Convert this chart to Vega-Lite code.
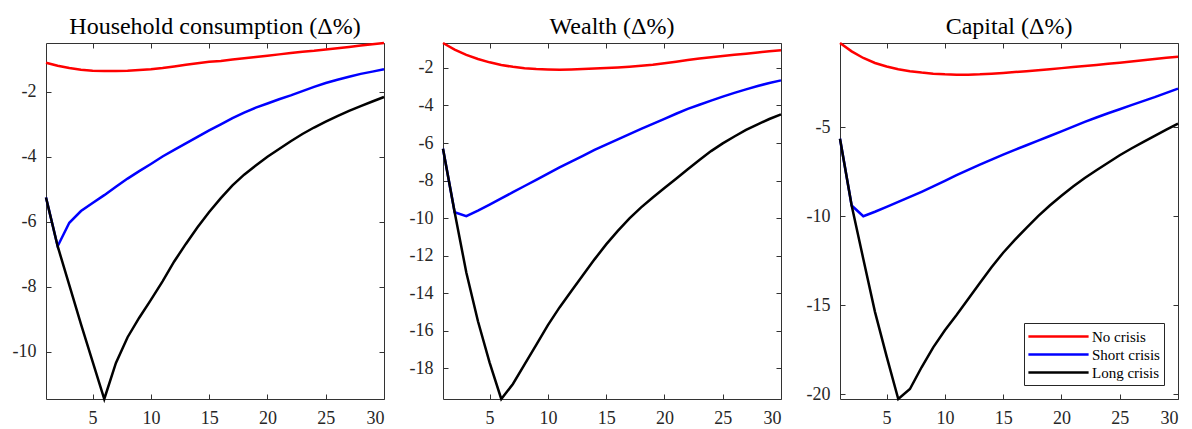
{
  "$schema": "https://vega.github.io/schema/vega-lite/v6.json",
  "background": "white",
  "padding": {"left": 11, "top": 14, "right": 5, "bottom": 5},
  "config": {
    "font": "Liberation Serif, DejaVu Serif, serif",
    "view": {"stroke": "#333333", "strokeWidth": 1},
    "axis": {"labelFont": "Liberation Serif, DejaVu Serif, serif", "labelFontSize": 18, "labelColor": "#262626", "tickColor": "#333333", "domain": false, "grid": false, "tickSize": -5, "labelPadding": 15},
    "title": {"font": "Liberation Serif, DejaVu Serif, serif", "fontSize": 24, "fontWeight": "normal", "color": "#000000", "offset": -1}
  },
  "datasets": {
    "d": [
      {"p":"H","x":1,"No crisis":-1.11,"Short crisis":-5.25,"Long crisis":-5.25},
      {"p":"H","x":2,"No crisis":-1.2,"Short crisis":-6.75,"Long crisis":-6.75},
      {"p":"H","x":3,"No crisis":-1.27,"Short crisis":-6.03,"Long crisis":-7.95},
      {"p":"H","x":4,"No crisis":-1.32,"Short crisis":-5.67,"Long crisis":-9.15},
      {"p":"H","x":5,"No crisis":-1.35,"Short crisis":-5.42,"Long crisis":-10.3},
      {"p":"H","x":6,"No crisis":-1.36,"Short crisis":-5.18,"Long crisis":-11.45},
      {"p":"H","x":7,"No crisis":-1.36,"Short crisis":-4.92,"Long crisis":-10.34},
      {"p":"H","x":8,"No crisis":-1.35,"Short crisis":-4.67,"Long crisis":-9.55},
      {"p":"H","x":9,"No crisis":-1.33,"Short crisis":-4.44,"Long crisis":-8.95},
      {"p":"H","x":10,"No crisis":-1.31,"Short crisis":-4.22,"Long crisis":-8.4},
      {"p":"H","x":11,"No crisis":-1.27,"Short crisis":-3.99,"Long crisis":-7.83},
      {"p":"H","x":12,"No crisis":-1.22,"Short crisis":-3.79,"Long crisis":-7.22},
      {"p":"H","x":13,"No crisis":-1.17,"Short crisis":-3.59,"Long crisis":-6.68},
      {"p":"H","x":14,"No crisis":-1.12,"Short crisis":-3.39,"Long crisis":-6.17},
      {"p":"H","x":15,"No crisis":-1.08,"Short crisis":-3.19,"Long crisis":-5.7},
      {"p":"H","x":16,"No crisis":-1.05,"Short crisis":-3.0,"Long crisis":-5.27},
      {"p":"H","x":17,"No crisis":-1.01,"Short crisis":-2.81,"Long crisis":-4.88},
      {"p":"H","x":18,"No crisis":-0.97,"Short crisis":-2.64,"Long crisis":-4.55},
      {"p":"H","x":19,"No crisis":-0.93,"Short crisis":-2.49,"Long crisis":-4.27},
      {"p":"H","x":20,"No crisis":-0.89,"Short crisis":-2.36,"Long crisis":-4.0},
      {"p":"H","x":21,"No crisis":-0.85,"Short crisis":-2.23,"Long crisis":-3.76},
      {"p":"H","x":22,"No crisis":-0.81,"Short crisis":-2.11,"Long crisis":-3.52},
      {"p":"H","x":23,"No crisis":-0.77,"Short crisis":-1.98,"Long crisis":-3.3},
      {"p":"H","x":24,"No crisis":-0.74,"Short crisis":-1.85,"Long crisis":-3.1},
      {"p":"H","x":25,"No crisis":-0.7,"Short crisis":-1.73,"Long crisis":-2.92},
      {"p":"H","x":26,"No crisis":-0.66,"Short crisis":-1.63,"Long crisis":-2.75},
      {"p":"H","x":27,"No crisis":-0.62,"Short crisis":-1.54,"Long crisis":-2.59},
      {"p":"H","x":28,"No crisis":-0.58,"Short crisis":-1.45,"Long crisis":-2.44},
      {"p":"H","x":29,"No crisis":-0.54,"Short crisis":-1.38,"Long crisis":-2.3},
      {"p":"H","x":30,"No crisis":-0.5,"Short crisis":-1.31,"Long crisis":-2.16},
      {"p":"W","x":1,"No crisis":-0.67,"Short crisis":-6.3,"Long crisis":-6.3},
      {"p":"W","x":2,"No crisis":-1.02,"Short crisis":-9.69,"Long crisis":-9.69},
      {"p":"W","x":3,"No crisis":-1.3,"Short crisis":-9.9,"Long crisis":-12.9},
      {"p":"W","x":4,"No crisis":-1.52,"Short crisis":-9.6,"Long crisis":-15.5},
      {"p":"W","x":5,"No crisis":-1.7,"Short crisis":-9.28,"Long crisis":-17.7},
      {"p":"W","x":6,"No crisis":-1.84,"Short crisis":-8.95,"Long crisis":-19.64},
      {"p":"W","x":7,"No crisis":-1.94,"Short crisis":-8.62,"Long crisis":-18.84},
      {"p":"W","x":8,"No crisis":-2.01,"Short crisis":-8.29,"Long crisis":-17.8},
      {"p":"W","x":9,"No crisis":-2.06,"Short crisis":-7.96,"Long crisis":-16.75},
      {"p":"W","x":10,"No crisis":-2.08,"Short crisis":-7.63,"Long crisis":-15.7},
      {"p":"W","x":11,"No crisis":-2.09,"Short crisis":-7.3,"Long crisis":-14.76},
      {"p":"W","x":12,"No crisis":-2.08,"Short crisis":-6.99,"Long crisis":-13.9},
      {"p":"W","x":13,"No crisis":-2.06,"Short crisis":-6.68,"Long crisis":-13.05},
      {"p":"W","x":14,"No crisis":-2.03,"Short crisis":-6.37,"Long crisis":-12.2},
      {"p":"W","x":15,"No crisis":-2.0,"Short crisis":-6.08,"Long crisis":-11.4},
      {"p":"W","x":16,"No crisis":-1.97,"Short crisis":-5.8,"Long crisis":-10.68},
      {"p":"W","x":17,"No crisis":-1.93,"Short crisis":-5.52,"Long crisis":-10.02},
      {"p":"W","x":18,"No crisis":-1.88,"Short crisis":-5.25,"Long crisis":-9.43},
      {"p":"W","x":19,"No crisis":-1.83,"Short crisis":-4.98,"Long crisis":-8.9},
      {"p":"W","x":20,"No crisis":-1.75,"Short crisis":-4.71,"Long crisis":-8.4},
      {"p":"W","x":21,"No crisis":-1.67,"Short crisis":-4.44,"Long crisis":-7.9},
      {"p":"W","x":22,"No crisis":-1.58,"Short crisis":-4.18,"Long crisis":-7.4},
      {"p":"W","x":23,"No crisis":-1.5,"Short crisis":-3.96,"Long crisis":-6.9},
      {"p":"W","x":24,"No crisis":-1.43,"Short crisis":-3.74,"Long crisis":-6.43},
      {"p":"W","x":25,"No crisis":-1.36,"Short crisis":-3.53,"Long crisis":-6.02},
      {"p":"W","x":26,"No crisis":-1.3,"Short crisis":-3.33,"Long crisis":-5.65},
      {"p":"W","x":27,"No crisis":-1.24,"Short crisis":-3.14,"Long crisis":-5.3},
      {"p":"W","x":28,"No crisis":-1.17,"Short crisis":-2.96,"Long crisis":-5.0},
      {"p":"W","x":29,"No crisis":-1.11,"Short crisis":-2.8,"Long crisis":-4.72},
      {"p":"W","x":30,"No crisis":-1.05,"Short crisis":-2.66,"Long crisis":-4.47},
      {"p":"C","x":1,"No crisis":-0.28,"Short crisis":-5.65,"Long crisis":-5.65},
      {"p":"C","x":2,"No crisis":-0.75,"Short crisis":-9.4,"Long crisis":-9.4},
      {"p":"C","x":3,"No crisis":-1.12,"Short crisis":-10.0,"Long crisis":-12.4},
      {"p":"C","x":4,"No crisis":-1.4,"Short crisis":-9.75,"Long crisis":-15.37},
      {"p":"C","x":5,"No crisis":-1.6,"Short crisis":-9.48,"Long crisis":-17.87},
      {"p":"C","x":6,"No crisis":-1.75,"Short crisis":-9.2,"Long crisis":-20.26},
      {"p":"C","x":7,"No crisis":-1.86,"Short crisis":-8.92,"Long crisis":-19.7},
      {"p":"C","x":8,"No crisis":-1.94,"Short crisis":-8.63,"Long crisis":-18.48},
      {"p":"C","x":9,"No crisis":-2.0,"Short crisis":-8.33,"Long crisis":-17.36},
      {"p":"C","x":10,"No crisis":-2.04,"Short crisis":-8.02,"Long crisis":-16.4},
      {"p":"C","x":11,"No crisis":-2.06,"Short crisis":-7.7,"Long crisis":-15.55},
      {"p":"C","x":12,"No crisis":-2.06,"Short crisis":-7.4,"Long crisis":-14.65},
      {"p":"C","x":13,"No crisis":-2.04,"Short crisis":-7.1,"Long crisis":-13.75},
      {"p":"C","x":14,"No crisis":-2.0,"Short crisis":-6.82,"Long crisis":-12.87},
      {"p":"C","x":15,"No crisis":-1.96,"Short crisis":-6.55,"Long crisis":-12.05},
      {"p":"C","x":16,"No crisis":-1.91,"Short crisis":-6.28,"Long crisis":-11.33},
      {"p":"C","x":17,"No crisis":-1.86,"Short crisis":-6.02,"Long crisis":-10.65},
      {"p":"C","x":18,"No crisis":-1.81,"Short crisis":-5.76,"Long crisis":-10.0},
      {"p":"C","x":19,"No crisis":-1.75,"Short crisis":-5.5,"Long crisis":-9.4},
      {"p":"C","x":20,"No crisis":-1.69,"Short crisis":-5.24,"Long crisis":-8.85},
      {"p":"C","x":21,"No crisis":-1.63,"Short crisis":-4.97,"Long crisis":-8.33},
      {"p":"C","x":22,"No crisis":-1.57,"Short crisis":-4.71,"Long crisis":-7.86},
      {"p":"C","x":23,"No crisis":-1.51,"Short crisis":-4.46,"Long crisis":-7.42},
      {"p":"C","x":24,"No crisis":-1.45,"Short crisis":-4.22,"Long crisis":-7.0},
      {"p":"C","x":25,"No crisis":-1.39,"Short crisis":-4.0,"Long crisis":-6.58},
      {"p":"C","x":26,"No crisis":-1.32,"Short crisis":-3.77,"Long crisis":-6.2},
      {"p":"C","x":27,"No crisis":-1.25,"Short crisis":-3.54,"Long crisis":-5.84},
      {"p":"C","x":28,"No crisis":-1.18,"Short crisis":-3.32,"Long crisis":-5.49},
      {"p":"C","x":29,"No crisis":-1.11,"Short crisis":-3.08,"Long crisis":-5.14},
      {"p":"C","x":30,"No crisis":-1.05,"Short crisis":-2.84,"Long crisis":-4.8}
    ]
  },
  "bounds": "flush",
  "spacing": 59,
  "resolve": {"scale": {"color": "independent"}, "legend": {"color": "independent"}},
  "hconcat": [
    {
      "title": "Household consumption (Δ%)",
      "width": 338, "height": 356,
      "data": {"name": "d"},
      "transform": [{"filter": "datum.p === 'H'"}, {"fold": ["No crisis", "Short crisis", "Long crisis"], "as": ["series", "value"]}],
      "layer": [
        {"mark": {"type": "line", "strokeWidth": 2.5},
         "encoding": {
           "x": {"field": "x", "type": "quantitative", "scale": {"domain": [1, 30], "nice": false, "zero": false}, "axis": {"values": [5, 10, 15, 20, 25, 30], "title": null, "labelExpr": "'' + datum.value"}},
           "y": {"field": "value", "type": "quantitative", "scale": {"domain": [-11.45, -0.5], "nice": false, "zero": false}, "axis": {"values": [-10, -8, -6, -4, -2], "title": null, "labelExpr": "'' + datum.value"}},
           "color": {"field": "series", "type": "nominal", "scale": {"domain": ["No crisis", "Short crisis", "Long crisis"], "range": ["#ff0000", "#0000ff", "#000000"]}, "legend": null}
         }},
        {"mark": {"type": "line", "opacity": 0},
         "encoding": {
           "x": {"field": "x", "type": "quantitative", "axis": {"orient": "top", "values": [5, 10, 15, 20, 25, 30], "labels": false, "title": null}},
           "y": {"field": "value", "type": "quantitative", "axis": {"orient": "right", "values": [-10, -8, -6, -4, -2], "labels": false, "title": null}},
           "detail": {"field": "series"}
         }}
      ],
      "resolve": {"axis": {"x": "independent", "y": "independent"}}
    },
    {
      "title": "Wealth (Δ%)",
      "width": 338, "height": 356,
      "data": {"name": "d"},
      "transform": [{"filter": "datum.p === 'W'"}, {"fold": ["No crisis", "Short crisis", "Long crisis"], "as": ["series", "value"]}],
      "layer": [
        {"mark": {"type": "line", "strokeWidth": 2.5},
         "encoding": {
           "x": {"field": "x", "type": "quantitative", "scale": {"domain": [1, 30], "nice": false, "zero": false}, "axis": {"values": [5, 10, 15, 20, 25, 30], "title": null, "labelExpr": "'' + datum.value"}},
           "y": {"field": "value", "type": "quantitative", "scale": {"domain": [-19.64, -0.67], "nice": false, "zero": false}, "axis": {"values": [-18, -16, -14, -12, -10, -8, -6, -4, -2], "title": null, "labelExpr": "'' + datum.value"}},
           "color": {"field": "series", "type": "nominal", "scale": {"domain": ["No crisis", "Short crisis", "Long crisis"], "range": ["#ff0000", "#0000ff", "#000000"]}, "legend": null}
         }},
        {"mark": {"type": "line", "opacity": 0},
         "encoding": {
           "x": {"field": "x", "type": "quantitative", "axis": {"orient": "top", "values": [5, 10, 15, 20, 25, 30], "labels": false, "title": null}},
           "y": {"field": "value", "type": "quantitative", "axis": {"orient": "right", "values": [-18, -16, -14, -12, -10, -8, -6, -4, -2], "labels": false, "title": null}},
           "detail": {"field": "series"}
         }}
      ],
      "resolve": {"axis": {"x": "independent", "y": "independent"}}
    },
    {
      "title": "Capital (Δ%)",
      "width": 338, "height": 356,
      "data": {"name": "d"},
      "transform": [{"filter": "datum.p === 'C'"}, {"fold": ["No crisis", "Short crisis", "Long crisis"], "as": ["series", "value"]}],
      "layer": [
        {"mark": {"type": "line", "strokeWidth": 2.5},
         "encoding": {
           "x": {"field": "x", "type": "quantitative", "scale": {"domain": [1, 30], "nice": false, "zero": false}, "axis": {"values": [5, 10, 15, 20, 25, 30], "title": null, "labelExpr": "'' + datum.value"}},
           "y": {"field": "value", "type": "quantitative", "scale": {"domain": [-20.26, -0.28], "nice": false, "zero": false}, "axis": {"values": [-20, -15, -10, -5], "title": null, "labelExpr": "'' + datum.value"}},
           "color": {"field": "series", "type": "nominal", "scale": {"domain": ["No crisis", "Short crisis", "Long crisis"], "range": ["#ff0000", "#0000ff", "#000000"]},
             "legend": {"title": null, "orient": "bottom-right", "offset": 14, "symbolType": "M-3.65,0H3.65", "symbolSize": 272, "symbolStrokeWidth": 2.5, "symbolOffset": 21, "labelOffset": 24, "labelFont": "Liberation Serif, DejaVu Serif, serif", "labelFontSize": 15, "labelColor": "#000000", "strokeColor": "#262626", "fillColor": "#ffffff", "padding": 4, "rowPadding": 0}}
         }},
        {"mark": {"type": "line", "opacity": 0},
         "encoding": {
           "x": {"field": "x", "type": "quantitative", "axis": {"orient": "top", "values": [5, 10, 15, 20, 25, 30], "labels": false, "title": null}},
           "y": {"field": "value", "type": "quantitative", "axis": {"orient": "right", "values": [-20, -15, -10, -5], "labels": false, "title": null}},
           "detail": {"field": "series"}
         }}
      ],
      "resolve": {"axis": {"x": "independent", "y": "independent"}}
    }
  ]
}
